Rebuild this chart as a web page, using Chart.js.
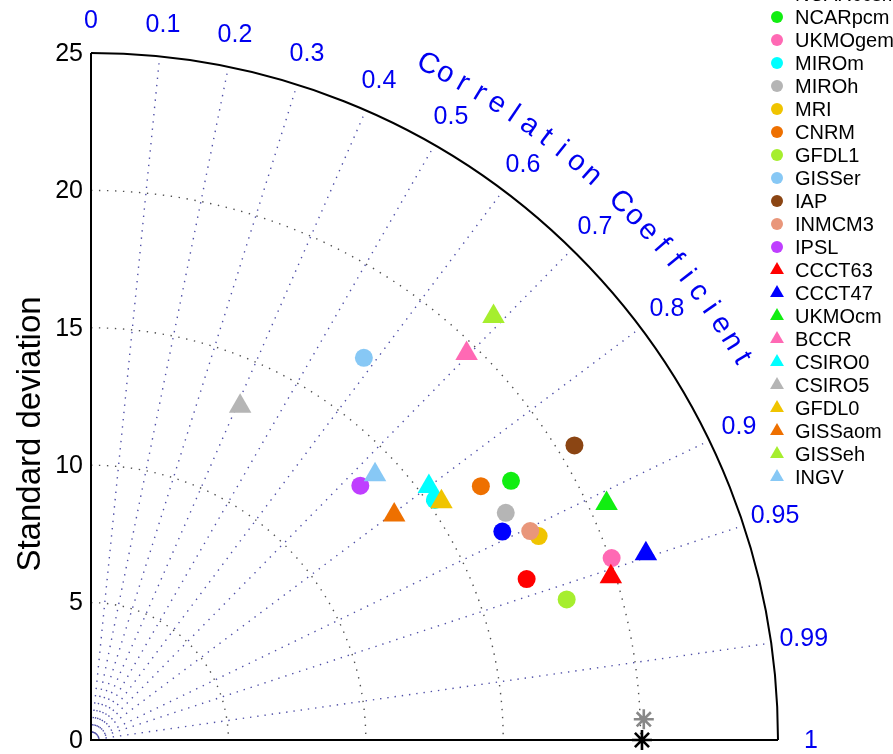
<!DOCTYPE html>
<html>
<head>
<meta charset="utf-8">
<title>Taylor diagram</title>
<script src="https://cdn.jsdelivr.net/npm/chart.js@4.4.1/dist/chart.umd.min.js"></script>
<style>
  html, body { margin: 0; padding: 0; background: #fff; overflow: hidden; }
  #wrap { width: 893px; height: 754px; }
</style>
</head>
<body>
<div id="wrap"><canvas id="taylor" width="893" height="754"></canvas></div>
<script>
// Model statistics (std dev + correlation with obs)
const modelNames = ['CGCM', 'NCARccsm', 'NCARpcm', 'UKMOgem', 'MIROm', 'MIROh', 'MRI', 'CNRM',
  'GFDL1', 'GISSer', 'IAP', 'INMCM3', 'IPSL',
  'CCCT63', 'CCCT47', 'UKMOcm', 'BCCR', 'CSIRO0', 'CSIRO5', 'GFDL0', 'GISSaom', 'GISSeh', 'INGV'];
const modelStd = [16.90, 16.78, 17.96, 20.07, 15.26, 17.21, 17.90, 16.93,
  18.05, 17.09, 20.60, 17.70, 13.48,
  19.83, 21.30, 20.64, 19.61, 15.37, 13.30, 15.42, 13.74, 21.26, 14.14];
const modelCorr = [0.938, 0.892, 0.851, 0.944, 0.820, 0.877, 0.910, 0.838,
  0.959, 0.581, 0.854, 0.903, 0.727,
  0.954, 0.948, 0.909, 0.697, 0.800, 0.408, 0.827, 0.803, 0.689, 0.731];

// reference points (observations)
const refStd = [20.05, 20.13];
const refCorr = [1, 0.9993];

// grid / tick values
const stdTicks = [0, 5, 10, 15, 20, 25];
const stdArcs = [5, 10, 15, 20];
const corrTicks = [0, 0.1, 0.2, 0.3, 0.4, 0.5, 0.6, 0.7, 0.8, 0.9, 0.95, 0.99, 1];
const corrRays = [0.1, 0.2, 0.3, 0.4, 0.5, 0.6, 0.7, 0.8, 0.9, 0.95, 0.99];

// styles
const modelColors = ['#ff0000', '#0000ff', '#11ee11', '#ff69b4', '#00ffff', '#b5b5b5', '#f0c400', '#ee7000',
  '#a6ee2e', '#87c8f5', '#8b4513', '#e9967a', '#bf3eff',
  '#ff0000', '#0000ff', '#11ee11', '#ff69b4', '#00ffff', '#b5b5b5', '#f0c400', '#ee7000', '#a6ee2e', '#87c8f5'];
const modelShapes = modelNames.map((n, i) => i < 13 ? 'circle' : 'triangle');
const refColors = ['#000000', '#888888'];

const FONT = '"Liberation Sans", Arial, Helvetica, sans-serif';
const MAX_STD = 25;

function toXY(std, corr) {
  const a = Math.acos(Math.min(1, corr));
  return { x: std * Math.cos(a), y: std * Math.sin(a) };
}

// later datasets should sit on top, chart.js draws low "order" last
const datasets = modelNames.map((name, i) => ({
  label: name,
  data: [toXY(modelStd[i], modelCorr[i])],
  pointStyle: modelShapes[i],
  pointRadius: modelShapes[i] === 'circle' ? 9 : 13,
  backgroundColor: modelColors[i],
  borderWidth: 0,
  clip: false,
  order: -i
}));

refStd.forEach((s, i) => {
  datasets.push({
    label: 'ref' + i,
    data: [toXY(s, refCorr[i])],
    pointStyle: 'star',
    pointRadius: 10,
    borderColor: refColors[i],
    borderWidth: 2.6,
    clip: false,
    order: -100 - i
  });
});

const taylorGrid = {
  id: 'taylorGrid',
  beforeDatasetsDraw(chart) {
    const { ctx, scales: { x, y } } = chart;
    const ox = x.getPixelForValue(0), oy = y.getPixelForValue(0);
    const unit = x.getPixelForValue(1) - ox;
    ctx.save();

    // std dev arcs
    ctx.lineWidth = 1.4;
    ctx.strokeStyle = '#505050';
    ctx.setLineDash([1.4, 6.6]);
    stdArcs.forEach(s => {
      ctx.beginPath();
      ctx.arc(ox, oy, s * unit, -Math.PI / 2, 0);
      ctx.stroke();
    });

    // correlation rays
    ctx.strokeStyle = '#5050a8';
    ctx.setLineDash([1.4, 5.9]);
    corrRays.forEach(c => {
      const a = Math.acos(c);
      ctx.beginPath();
      ctx.moveTo(ox, oy);
      ctx.lineTo(ox + 24.75 * unit * Math.cos(a), oy - 24.75 * unit * Math.sin(a));
      ctx.stroke();
    });

    // frame
    ctx.setLineDash([]);
    ctx.strokeStyle = '#000';
    ctx.lineWidth = 2;
    ctx.beginPath();
    ctx.moveTo(ox, oy - MAX_STD * unit);
    ctx.lineTo(ox, oy);
    ctx.lineTo(ox + MAX_STD * unit, oy);
    ctx.stroke();
    ctx.beginPath();
    ctx.arc(ox, oy, MAX_STD * unit, -Math.PI / 2, 0);
    ctx.stroke();

    // std tick labels
    ctx.fillStyle = '#000';
    ctx.font = '25px ' + FONT;
    ctx.textAlign = 'right';
    ctx.textBaseline = 'middle';
    stdTicks.forEach(s => ctx.fillText(String(s), ox - 8, y.getPixelForValue(s) + 1));

    // y title
    ctx.save();
    ctx.translate(31, 434);
    ctx.rotate(-Math.PI / 2);
    ctx.textAlign = 'center';
    ctx.font = '33px ' + FONT;
    ctx.fillText('Standard deviation', 0, 0);
    ctx.restore();

    // correlation labels
    ctx.fillStyle = '#0000f0';
    ctx.font = '25px ' + FONT;
    ctx.textAlign = 'center';
    corrTicks.forEach(c => {
      const a = Math.acos(c);
      const r = 26.2 * unit;
      ctx.fillText(String(c), ox + r * Math.cos(a), oy - r * Math.sin(a) + 1);
    });

    // curved title
    const title = 'Correlation Coefficient';
    const R = 27.47 * unit;
    const start = 63.5, step = 1.505;
    ctx.font = '29px ' + FONT;
    for (let i = 0; i < title.length; i++) {
      const th = (start - i * step) * Math.PI / 180;
      ctx.save();
      ctx.translate(ox + R * Math.cos(th), oy - R * Math.sin(th));
      ctx.rotate(Math.PI / 2 - th);
      ctx.fillText(title[i], 0, 0);
      ctx.restore();
    }
    ctx.restore();
  },
  afterDraw(chart) {
    // legend, top right, first rows run off the top edge
    const ctx = chart.ctx;
    ctx.save();
    ctx.font = '20px ' + FONT;
    ctx.textAlign = 'left';
    ctx.textBaseline = 'middle';
    modelNames.forEach((name, i) => {
      const yy = -29 + i * 23;
      const mx = 777;
      ctx.fillStyle = modelColors[i];
      ctx.beginPath();
      if (modelShapes[i] === 'circle') {
        ctx.arc(mx, yy, 6, 0, Math.PI * 2);
      } else {
        const r = 8;
        ctx.moveTo(mx, yy - r);
        ctx.lineTo(mx + r * 0.866, yy + r / 2);
        ctx.lineTo(mx - r * 0.866, yy + r / 2);
        ctx.closePath();
      }
      ctx.fill();
      ctx.fillStyle = '#000';
      ctx.fillText(name, 795, yy + 1);
    });
    ctx.restore();
  }
};

new Chart(document.getElementById('taylor'), {
  type: 'scatter',
  data: { datasets },
  options: {
    responsive: false,
    animation: false,
    layout: { padding: { left: 91, right: 115, top: 53, bottom: 14 } },
    scales: {
      x: { type: 'linear', min: 0, max: MAX_STD, display: false },
      y: { type: 'linear', min: 0, max: MAX_STD, display: false }
    },
    plugins: {
      legend: { display: false },
      tooltip: { enabled: false }
    }
  },
  plugins: [taylorGrid]
});
</script>
</body>
</html>
